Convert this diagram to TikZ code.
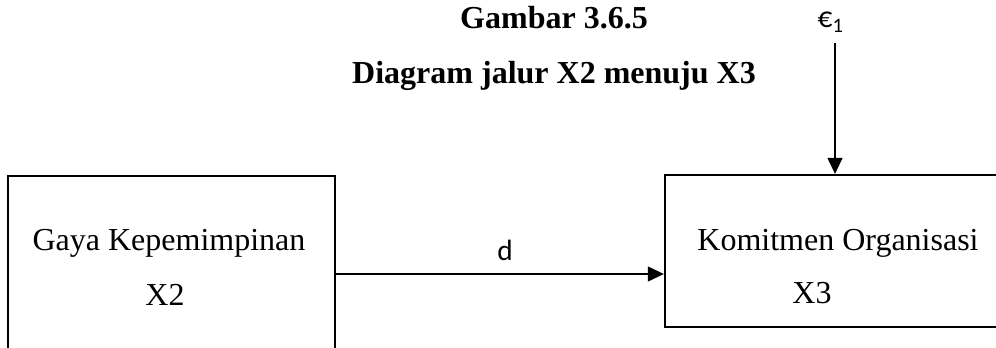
\documentclass[tikz,border=0pt]{standalone}
\usepackage{fontspec}
\setmainfont{Liberation Serif}
\newfontfamily\calfont{Carlito}
\usetikzlibrary{arrows.meta,positioning}

\begin{document}
\begin{tikzpicture}[x=0.375pt, y=0.375pt,
  %% ── Styles ──────────────────────────────────────────────────────────────
  %% box : variable box (sizes given per node)
  box/.style={draw, line width=0.8pt, rectangle, inner sep=0pt},
  lbl/.style={font=\fontsize{12}{14}\selectfont, anchor=base},
  ttl/.style={font=\fontsize{12}{14}\selectfont\bfseries, anchor=base},
  sml/.style={font=\calfont\fontsize{11}{13}\selectfont, anchor=base},
  arr/.style={-{Triangle[length=6pt, width=5.5pt]}, line width=0.8pt}
]
\clip (0,0) rectangle (996,347);

%% ── Caption ─────────────────────────────────────────────────────────────
\node[ttl] (gbr) at (554,318) {Gambar 3.6.5};
\node[ttl] (jdl) at (554,264) {Diagram jalur X2 menuju X3};

%% ── Boxes (left one runs past the page bottom) ──────────────────────────
\node[box, minimum width=122.6pt, minimum height=73.5pt] (x2box) at (171.5,73) {};
\node[box, minimum width=124.9pt, minimum height=57pt]   (x3box) at (831.5,96) {};

%% ── Box texts ───────────────────────────────────────────────────────────
\node[lbl] (gaya) at (169,97) {Gaya Kepemimpinan};
\node[lbl] (xdua) at (165,42) {X2};
\node[lbl] (komt) at (838,97) {Komitmen Organisasi};
\node[lbl] (xtga) at (812,44) {X3};

%% ── Error term ──────────────────────────────────────────────────────────
\node[sml] (eps) at (831,319) {€\textsubscript{1}};
\coordinate (epstail) at (835,304);

%% ── Arrows ──────────────────────────────────────────────────────────────
\draw[arr] (x2box.east) -- (x2box.east -| x3box.west);
\draw[arr] (epstail) -- (epstail |- x3box.north);

%% ── Path label ──────────────────────────────────────────────────────────
\node[sml] (dlbl) at (505,87) {d};

\end{tikzpicture}
\end{document}
